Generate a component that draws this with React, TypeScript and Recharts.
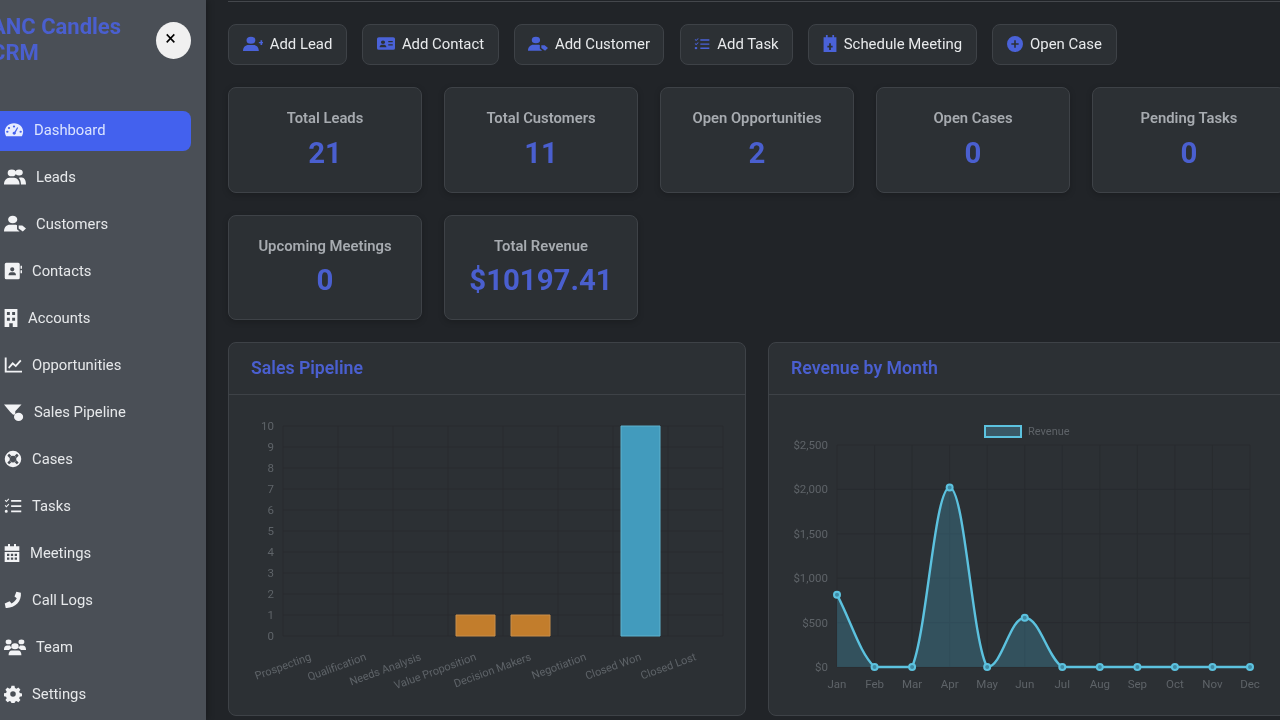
import React from "react";
import { BarChart, Bar, Cell, XAxis, YAxis, CartesianGrid, AreaChart, Area, Legend } from "recharts";

const pipelineStages = ["Prospecting", "Qualification", "Needs Analysis", "Value Proposition", "Decision Makers", "Negotiation", "Closed Won", "Closed Lost"];
const pipelineCounts = [0, 0, 0, 1, 1, 0, 10, 0];
const pipelineTicks = [0, 1, 2, 3, 4, 5, 6, 7, 8, 9, 10];
const months = ["Jan", "Feb", "Mar", "Apr", "May", "Jun", "Jul", "Aug", "Sep", "Oct", "Nov", "Dec"];
const revenueValues = [815, 0, 0, 2020, 0, 555, 0, 0, 0, 0, 0, 0];
const revenueTicks = [0, 500, 1000, 1500, 2000, 2500];
const navLabels = ["Dashboard", "Leads", "Customers", "Contacts", "Accounts", "Opportunities", "Sales Pipeline", "Cases", "Tasks", "Meetings", "Call Logs", "Team", "Settings"];
const actionLabels = ["Add Lead", "Add Contact", "Add Customer", "Add Task", "Schedule Meeting", "Open Case"];
const statLabels = ["Total Leads", "Total Customers", "Open Opportunities", "Open Cases", "Pending Tasks", "Upcoming Meetings", "Total Revenue"];
const statValues = ["21", "11", "2", "0", "0", "0", "$10197.41"];

const pipelineData = pipelineStages.map((stage, i) => ({ stage, count: pipelineCounts[i] }));
const revenueData = months.map((month, i) => ({ month, revenue: revenueValues[i] }));

const FONT = "Roboto, sans-serif";
const ACCENT = "#4a5fcf";
const CARD = "#2c3034";
const BORDER = "#3e4247";
const TICK = "#5e6368";
const GRID = "#282b2f";
const CYAN = "#5cc2df";

// Chart.js style bezier (tension 0.4) with control points capped to the data range
function tensionCurve(context: any) {
  let line = NaN;
  let pts: [number, number][] = [];
  return {
    areaStart() { line = 0; },
    areaEnd() { line = NaN; },
    lineStart() { pts = []; },
    point(x: number, y: number) { pts.push([+x, +y]); },
    lineEnd() {
      const ys = pts.map((p) => p[1]);
      const lo = Math.min(...ys);
      const hi = Math.max(...ys);
      const cap = (v: number) => Math.max(lo, Math.min(hi, v));
      pts.forEach((p, i) => {
        if (i === 0) {
          if (line === 1) context.lineTo(p[0], p[1]);
          else context.moveTo(p[0], p[1]);
          return;
        }
        const a = pts[i - 1];
        const aPrev = pts[i - 2] || a;
        const next = pts[i + 1] || p;
        const k1 = i - 2 >= 0 ? 0.2 : 0.4;
        const k2 = i + 1 < pts.length ? 0.2 : 0.4;
        context.bezierCurveTo(
          a[0] + k1 * (p[0] - aPrev[0]),
          cap(a[1] + k1 * (p[1] - aPrev[1])),
          p[0] - k2 * (next[0] - a[0]),
          cap(p[1] - k2 * (next[1] - a[1])),
          p[0],
          p[1]
        );
      });
      if (line === 1 || (line !== 0 && pts.length === 1)) context.closePath();
      line = 1 - line;
    },
  };
}

const ICON_PATHS: Record<string, React.ReactNode> = {
  gauge: <path fillRule="evenodd" d="M12 3C5.4 3 1 8.4 1 14c0 2.4.7 4.6 1.6 6.4h18.8c.9-1.8 1.6-4 1.6-6.4C23 8.4 18.6 3 12 3zm-1.6 12.6a2 2 0 1 0 3.6-.4L17 9l-1.2-.6-3.2 6a2 2 0 0 0-2.2 1.2zM6 8a1.4 1.4 0 1 0 0 2.8A1.4 1.4 0 0 0 6 8zm6-2a1.4 1.4 0 1 0 0 2.8A1.4 1.4 0 0 0 12 6zM4 13a1.4 1.4 0 1 0 0 2.8A1.4 1.4 0 0 0 4 13zm16 0a1.4 1.4 0 1 0 0 2.8A1.4 1.4 0 0 0 20 13z" />,
  users: <path d="M8.500 2a4.500 4.500 0 1 1 0 9 4.500 4.500 0 0 1 0-9zm8 0a4 4 0 1 1 0 8 4 4 0 0 1 0-8zM0 22c0-5 2.500-9 6-9h5c3.500 0 6 4 6 9H0zm18.500 0c0-3.600-.8-6.800-2.300-8.800.6-.3 1.300-.4 2-.4h1.300c2.800 0 4.500 4 4.500 9.200h-5.500z" />,
  customer: <path d="M9.500 1a5 5 0 1 1 0 10 5 5 0 0 1 0-10zM0 22c0-5.500 2.700-9 6.500-9h5c1 0 1.900.2 2.700.6V19l2.800 3H0zm16-8h4l4 4-3.500 4-4.500-4v-4z" />,
  contacts: <path fillRule="evenodd" d="M3 1h16a2 2 0 0 1 2 2v18a2 2 0 0 1-2 2H3a2 2 0 0 1-2-2V3a2 2 0 0 1 2-2zm8 6a2.800 2.800 0 1 0 0 5.600A2.800 2.800 0 0 0 11 7zm-5 10.500h10c0-2.400-1.600-4-3-4H9c-1.400 0-3 1.600-3 4zM22 5h2v4h-2zm0 6h2v4h-2z" />,
  building: <path fillRule="evenodd" d="M1 0h22v24h-8v-5h-6v5H1V0zm4 4v4h5V4zm9 0v4h5V4zm-9 7.500v4h5v-4zm9 0v4h5v-4z" />,
  chart: <path d="M1 2h2.500v17.500H24V22H1V2zm4.500 13l6-7 4 3.500L21.500 5l1.800 1.600-7.500 8.400-4-3.500-5 5.500z" />,
  funnel: <path d="M0 2h21l-7.500 9v4a6 6 0 0 0-2.500.8L7.500 12 0 2zm17.500 11a5.500 5.500 0 1 1 0 11 5.500 5.500 0 0 1 0-11z" />,
  lifering: <path fillRule="evenodd" d="M12 1a11 11 0 1 1 0 22 11 11 0 0 1 0-22zm0 6.500a4.500 4.500 0 1 0 0 9 4.500 4.500 0 0 0 0-9zM4.500 7.500l3 3 2.500-2.500-3-3A9 9 0 0 0 4.500 7.500zM14 8l2.500 2.500 3-3A9 9 0 0 0 17 5zM4.500 16.500A9 9 0 0 0 7 19l3-3-2.500-2.500zM16.500 13.500L14 16l3 3a9 9 0 0 0 2.500-2.500z" />,
  tasks: <path d="M2 3.500L3.200 5 6 2l1 1-3.800 4L1 4.500zM2 10.500L3.200 12 6 9l1 1-3.800 4L1 11.500zM3 17a2 2 0 1 1 0 4 2 2 0 0 1 0-4zM9.500 4H23v2.400H9.500zm0 7H23v2.400H9.500zm0 7H23v2.400H9.500z" />,
  calendar: <path fillRule="evenodd" d="M6 0h3v3h6V0h3v3h5v6H1V3h5V0zM1 10.500h22V24H1V10.500zm3.500 2.500v3h3.500v-3zm5.800 0v3h3.500v-3zm5.700 0v3h3.500v-3zM4.500 18v3h3.500v-3zm5.800 0v3h3.500v-3zm5.700 0v3h3.500v-3z" />,
  phone: <path d="M16.500 1l6 1.300c.5 5-1 10.700-4.700 14.500S8 23 2.300 22.500l-1.300-6 6.500-2.700 2.500 3c2.800-1.400 5.700-4.300 7-7l-3-2.500z" />,
  team: <path d="M5 2a3.200 3.200 0 1 1 0 6.400A3.200 3.200 0 0 1 5 2zm14 0a3.200 3.200 0 1 1 0 6.400A3.200 3.200 0 0 1 19 2zM12 7a4 4 0 1 1 0 8 4 4 0 0 1 0-8zM0 15c0-3 1.500-5 3.500-5h3c.5 1.300 1.200 2.500 2 3.200C7 14 6 15 5.500 16H0zm24 0c0-3-1.500-5-3.500-5h-3c-.5 1.300-1.200 2.500-2 3.200 1.500.8 2.500 1.800 3 2.800H24zM8.500 16.500h7c2.200 0 3.500 2.500 3.500 6.500H5c0-4 1.300-6.500 3.500-6.500z" />,
  gear: <path fillRule="evenodd" d="M10 1h4l.6 3 2 .9 2.600-1.600 2.700 2.900-1.700 2.500.8 2 3 .5v3.800l-3 .6-.8 2 1.700 2.500-2.700 2.800-2.600-1.600-2 .9-.6 3h-4l-.6-3-2-.9-2.600 1.600L1.900 20l1.700-2.500-.8-2-3-.6v-3.800l3-.5.8-2L1.900 6.200l2.700-2.900 2.600 1.600 2-.9zM12 8.300a3.700 3.700 0 1 0 0 7.400 3.700 3.700 0 0 0 0-7.400z" />,
  userPlus: <path d="M9.500 1a5.300 5.300 0 1 1 0 10.600A5.300 5.300 0 0 1 9.500 1zM0 22.500c0-5.500 2.800-9 6.500-9h6c3.700 0 6.500 3.500 6.500 9H0zM19 9h2V6.500h2V9h1v2h-1v2.500h-2V11h-2z" />,
  idCard: <path fillRule="evenodd" d="M2.500 2h19A2.500 2.500 0 0 1 24 4.500v15a2.500 2.500 0 0 1-2.500 2.500h-19A2.500 2.500 0 0 1 0 19.500v-15A2.500 2.500 0 0 1 2.500 2zM8 7a2.800 2.800 0 1 0 0 5.600A2.800 2.800 0 0 0 8 7zm-4.500 11h9c0-2.500-1.300-4-3-4h-3c-1.700 0-3 1.500-3 4zM15 8v2h6V8zm0 5v2h6v-2z" />,
  calPlus: <path fillRule="evenodd" d="M5 0h3v3h8V0h3v3h4v21H1V3h4V0zm5.500 11.500V15H7.500v2.500h3V21h3v-3.500h3V15h-3v-3.500z" />,
  plusCircle: <path fillRule="evenodd" d="M12 0a12 12 0 1 1 0 24 12 12 0 0 1 0-24zm-1.200 6.500v4.300H6.500v2.400h4.300v4.300h2.400v-4.300h4.300v-2.400h-4.300V6.500z" />,
};

const Icon = ({ name, width, height = 18, color }: { name: string; width: number; height?: number; color: string }) => (
  <svg width={width} height={height} viewBox="0 0 24 24" preserveAspectRatio="none" style={{ flex: "none" }} fill={color}>
    {ICON_PATHS[name]}
  </svg>
);

const navIcons: [string, number][] = [["gauge", 20], ["users", 22], ["customer", 22], ["contacts", 18], ["building", 14], ["chart", 18], ["funnel", 20], ["lifering", 18], ["tasks", 18], ["calendar", 16], ["phone", 18], ["team", 22], ["gear", 18]];
const actionIcons = ["userPlus", "idCard", "customer", "tasks", "calPlus", "plusCircle"];
const actionBoxes = [[228, 119], [362, 137], [514, 150], [680, 113], [808, 169], [992, 125]];
const actionIconWidths = [20, 18, 20, 16, 14, 16];
const actionIconHeights = [16, 15, 16, 14, 17, 16];

const Box = ({ left, top, width, height, children, style }: any) => (
  <div style={{ position: "absolute", left, top, width, height, boxSizing: "border-box", background: CARD, border: `1px solid ${BORDER}`, borderRadius: 8, ...style }}>{children}</div>
);

const Line1 = ({ text, cy, color, size, weight }: any) => (
  <div style={{ position: "absolute", left: 0, right: 0, top: cy - 20, height: 40, lineHeight: "40px", textAlign: "center", color, fontSize: size, fontWeight: weight }}>{text}</div>
);

const PipelineTick = ({ x, y, payload }: any) => (
  <text x={x} y={y} dy={16} textAnchor="end" fill={TICK} fontSize={11} fontFamily={FONT} transform={`rotate(-20 ${x} ${y + 12})`}>
    {payload.value}
  </text>
);

const RevenueLegend = () => (
  <div style={{ position: "absolute", left: 215, top: 30, display: "flex", alignItems: "center", fontFamily: FONT, fontSize: 11, color: TICK, height: 12 }}>
    <span style={{ display: "inline-block", boxSizing: "border-box", width: 38, height: 13, background: "#3a5866", border: `2px solid ${CYAN}`, marginRight: 6 }} />
    Revenue
  </div>
);

export default function App() {
  return (
    <div style={{ position: "fixed", left: 0, top: 0, width: 1280, height: 720, overflow: "hidden", background: "#212428", fontFamily: FONT, filter: "blur(0.3px)" }}>
      {/* sidebar */}
      <div style={{ position: "absolute", left: 0, top: 0, width: 206, height: 720, background: "#4a4f56", boxShadow: "2px 0 6px rgba(0,0,0,.25)" }}>
        <div style={{ position: "absolute", left: -9, top: 14, width: 150, fontSize: 22, lineHeight: "26px", fontWeight: 700, color: "#4a5fcf" }}>ANC Candles CRM</div>
        <div style={{ position: "absolute", left: 156, top: 22, width: 35, height: 37, borderRadius: "50%", background: "#f0f0f0", color: "#000", fontSize: 20, fontWeight: 400, textAlign: "center", lineHeight: "33px", paddingRight: 6, boxSizing: "border-box" }}>×</div>
        <div style={{ position: "absolute", left: -10, top: 111, width: 201, height: 40, borderRadius: 8, background: "#4361ee" }} />
        {navLabels.map((label, i) => (
          <div key={label} style={{ position: "absolute", left: 4, top: 110 + i * 47, height: 40, display: "flex", alignItems: "center", gap: 10, color: i === 0 ? "#dbe4ff" : "#e6e8ea", fontSize: 14.8 }}>
            <Icon name={navIcons[i][0]} width={navIcons[i][1]} color={i === 0 ? "#e6ebff" : "#f2f3f5"} />
            <span>{label}</span>
          </div>
        ))}
      </div>

      {/* header rule */}
      <div style={{ position: "absolute", left: 228, top: 1, width: 1052, height: 1, background: "#44474c" }} />

      {/* quick actions */}
      {actionLabels.map((label, i) => (
        <Box key={label} left={actionBoxes[i][0]} top={24} width={actionBoxes[i][1]} height={41} style={{ display: "flex", alignItems: "center", justifyContent: "center", gap: 7, color: "#e8eaec", fontSize: 14.9, paddingBottom: 2 }}>
          <Icon name={actionIcons[i]} width={actionIconWidths[i]} height={actionIconHeights[i]} color="#4a62d8" />
          <span>{label}</span>
        </Box>
      ))}

      {/* stat cards */}
      {statLabels.map((label, i) => {
        const col = i % 5;
        const row = Math.floor(i / 5);
        return (
          <Box key={label} left={228 + col * 216} top={87 + row * 128} width={194} height={row ? 105 : 106} style={{ boxShadow: "0 2px 6px rgba(0,0,0,.2)" }}>
            <Line1 text={label} cy={30} color="#a7abb0" size={14.8} weight={600} />
            <Line1 text={statValues[i]} cy={row ? 63.5 : 64.5} color="#4a5fcf" size={29.4} weight={700} />
          </Box>
        );
      })}

      {/* sales pipeline */}
      <Box left={228} top={342} width={518} height={374}>
        <div style={{ position: "absolute", left: 22, top: 12, color: ACCENT, fontSize: 17.7, fontWeight: 600, lineHeight: "26px" }}>Sales Pipeline</div>
        <div style={{ position: "absolute", left: 0, right: 0, top: 51, height: 1, background: BORDER }} />
        <div style={{ position: "absolute", left: 0, top: 52 }}>
          <BarChart width={516} height={320} data={pipelineData} margin={{ top: 31, right: 22, bottom: 0, left: 0 }} barSize={39}>
            <CartesianGrid stroke={GRID} verticalCoordinatesGenerator={({ offset }: any) => pipelineStages.map((_, i) => offset.left + (i * offset.width) / pipelineStages.length).concat(offset.left + offset.width)} />
            <XAxis dataKey="stage" interval={0} height={79} tickLine={false} axisLine={false} tick={<PipelineTick />} />
            <YAxis width={54} domain={[0, 10]} ticks={pipelineTicks} interval={0} tickLine={false} axisLine={false} tickMargin={3} tick={{ fill: TICK, fontSize: 11.5, fontFamily: FONT }} />
            <Bar dataKey="count" isAnimationActive={false} strokeWidth={1}>
              {pipelineData.map((d) => (
                <Cell key={d.stage} fill={d.stage === "Closed Won" ? "#429bbd" : "#c27d2c"} stroke={d.stage === "Closed Won" ? "#5fb3cf" : "#c98f4a"} />
              ))}
            </Bar>
          </BarChart>
        </div>
      </Box>

      {/* revenue by month */}
      <Box left={768} top={342} width={530} height={374}>
        <div style={{ position: "absolute", left: 22, top: 12, color: ACCENT, fontSize: 17.7, fontWeight: 600, lineHeight: "26px" }}>Revenue by Month</div>
        <div style={{ position: "absolute", left: 0, right: 0, top: 51, height: 1, background: BORDER }} />
        <div style={{ position: "absolute", left: 0, top: 52 }}>
          <AreaChart width={511} height={320} data={revenueData} margin={{ top: 50, right: 30, bottom: 0, left: 0 }}>
            <CartesianGrid stroke={GRID} />
            <XAxis dataKey="month" interval={0} height={48} tickLine={false} axisLine={false} tickMargin={7} scale="point" padding={{ left: 0, right: 0 }} tick={{ fill: TICK, fontSize: 11.5, fontFamily: FONT }} />
            <YAxis width={68} domain={[0, 2500]} ticks={revenueTicks} interval={0} tickLine={false} axisLine={false} tickMargin={3} tickFormatter={(v: number) => `$${v.toLocaleString("en-US")}`} tick={{ fill: TICK, fontSize: 11.5, fontFamily: FONT }} />
            <Legend content={<RevenueLegend />} wrapperStyle={{ position: "absolute", left: 0, top: 0, width: 0, height: 0 }} />
            <Area dataKey="revenue" name="Revenue" type={tensionCurve as any} isAnimationActive={false} stroke={CYAN} strokeWidth={2.4} fill="#4cc9f0" fillOpacity={0.22} dot={{ r: 3, fill: "#3f8aa3", stroke: CYAN, strokeWidth: 2, fillOpacity: 1 }} />
          </AreaChart>
        </div>
      </Box>
    </div>
  );
}
